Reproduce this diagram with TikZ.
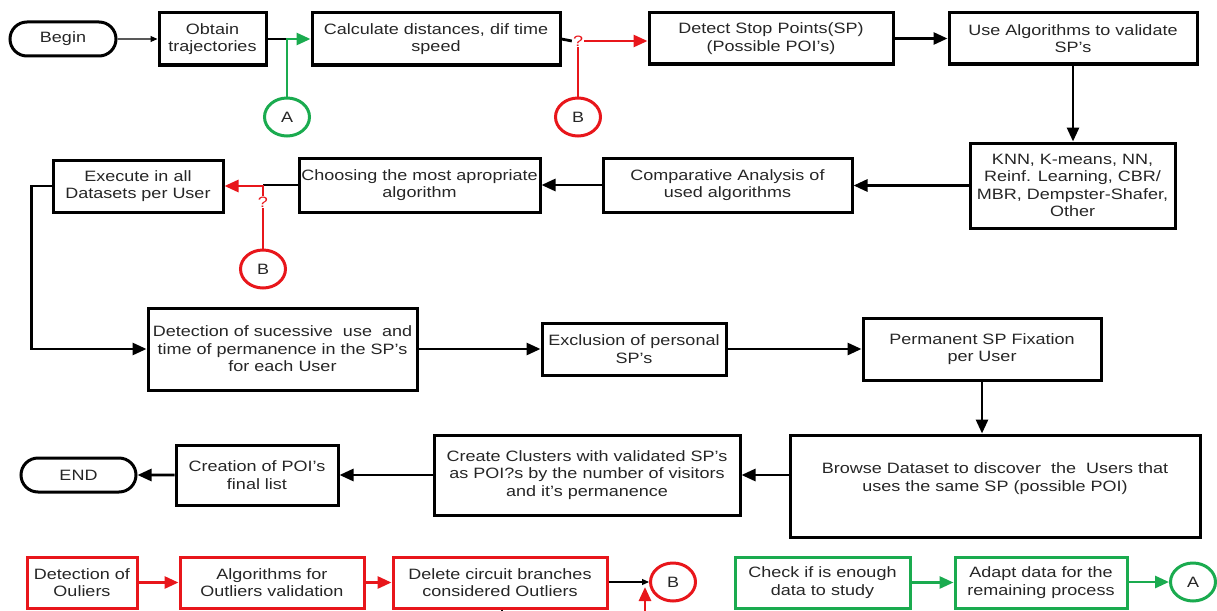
\documentclass[tikz,border=0pt]{standalone}
\usepackage{fontspec}
\setmainfont{Liberation Sans}[FakeStretch=1.2]
\usetikzlibrary{shapes.geometric,shapes.misc,arrows.meta,positioning}
\definecolor{flowred}{HTML}{E8161B}
\definecolor{flowgreen}{HTML}{1AAB4F}

\begin{document}
\begin{tikzpicture}[x=1pt, y=-1pt,
  procbox/.style={rectangle, draw, line width=3pt, inner sep=0pt, align=center, text=black!85, font=\fontsize{15}{17.5}\selectfont},
  redbox/.style={procbox, draw=flowred},
  greenbox/.style={procbox, draw=flowgreen},
  termbox/.style={rounded rectangle, draw, line width=3pt, inner sep=0pt, minimum width=106pt, minimum height=34pt, text=black!85, font=\fontsize{15}{17.5}\selectfont},
  connbox/.style={ellipse, draw, line width=3pt, inner sep=0pt, minimum width=45pt, minimum height=38pt, text=black!85, font=\fontsize{15}{17.5}\selectfont},
  qmark/.style={inner sep=1pt, text=flowred, font=\fontsize{15}{17.5}\selectfont},
  arr/.style={-{Triangle[length=14pt, width=12pt]}, line width=2.8pt},
  thinarr/.style={-{Triangle[length=7pt, width=6pt]}, line width=1.1pt},
  redarr/.style={arr, flowred},
  greenarr/.style={arr, flowgreen},
  redline/.style={line width=2.8pt, flowred}
]
  \useasboundingbox (0,0) rectangle (1217,610);
  \clip (0,0) rectangle (1217,610);

  \node[termbox] (begin) at (63,39) {Begin};
  \node[procbox, minimum width=107pt, minimum height=52pt] (obtain) at (212.5,39) {Obtain\\trajectories};
  \node[procbox, minimum width=248pt, minimum height=52pt] (calc) at (436,39) {Calculate distances, dif time\\speed};
  \node[qmark] (q1) at (578,41) {?};
  \node[procbox, minimum width=244pt, minimum height=51pt] (detect) at (771,38.5) {Detect Stop Points(SP)\\(Possible POI’s)};
  \node[procbox, minimum width=248pt, minimum height=51pt] (validate) at (1073,38.5) {Use Algorithms to validate\\SP’s};
  \node[connbox, draw=flowgreen] (connA1) at (287,117) {A};
  \node[connbox, draw=flowred] (connB1) at (578,117) {B};

  \node[procbox, minimum width=205pt, minimum height=85pt] (algos) at (1072.5,185.5) {KNN, K-means, NN,\\Reinf. Learning, CBR/\\MBR, Dempster-Shafer,\\Other};
  \node[procbox, minimum width=249pt, minimum height=54pt] (compare) at (727.5,185) {Comparative Analysis of\\used algorithms};
  \node[procbox, minimum width=241pt, minimum height=54pt] (choose) at (419.5,185) {Choosing the most apropriate\\algorithm};
  \node[procbox, minimum width=170pt, minimum height=52pt] (execute) at (138,186) {Execute in all\\Datasets per User};
  \node[qmark] (q2) at (263,202) {?};
  \node[connbox, draw=flowred] (connB2) at (263,269) {B};

  \node[procbox, minimum width=269pt, minimum height=82pt] (successive) at (282.5,349) {Detection of sucessive \ use \ and\\time of permanence in the SP’s\\for each User};
  \node[procbox, minimum width=184pt, minimum height=52pt] (exclude) at (634,349) {Exclusion of personal\\SP’s};
  \node[procbox, minimum width=238pt, minimum height=62pt] (fixation) at (982,349) {Permanent SP Fixation\\per User};

  \node[procbox, minimum width=410pt, minimum height=102pt] (browse) at (995,486) {Browse Dataset to discover \ the \ Users that\\uses the same SP (possible POI)\\\mbox{}};
  \node[procbox, minimum width=306pt, minimum height=80pt] (cluster) at (587,475) {Create Clusters with validated SP’s\\as POI?s by the number of visitors\\and it’s permanence};
  \node[procbox, minimum width=162pt, minimum height=60pt] (poilist) at (257,475) {Creation of POI’s\\final list};
  \node[termbox, minimum width=115pt] (end) at (78.5,475) {END};

  \node[redbox, minimum width=110pt, minimum height=51pt] (outliers) at (82,582.5) {Detection of\\Ouliers};
  \node[redbox, minimum width=184pt, minimum height=51pt] (outvalid) at (272,582.5) {Algorithms for\\Outliers validation};
  \node[redbox, minimum width=214pt, minimum height=51pt] (delete) at (500,582.5) {Delete circuit branches\\considered Outliers};
  \node[connbox, draw=flowred] (connB3) at (673,582) {B};
  \node[greenbox, minimum width=175pt, minimum height=51pt] (enough) at (822.5,582.5) {Check if is enough\\data to study};
  \node[greenbox, minimum width=172pt, minimum height=51pt] (adapt) at (1041,582.5) {Adapt data for the\\remaining process};
  \node[connbox, draw=flowgreen] (connA2) at (1193,582) {A};

  \coordinate (loopL) at (502,640);
  \coordinate (loopR) at (645,640);
  \coordinate (loopTip) at (645,587);

  \draw[thinarr] (begin) -- (obtain);
  \draw[line width=2.8pt] (obtain.east) -- (obtain.east -| connA1);
  \draw[greenarr] (connA1) |- (calc.west);
  \draw[line width=2.8pt] (calc.east) -- (q1.west);
  \draw[redarr] (q1.east) -- (q1.east -| detect.west);
  \draw[redline] (connB1) -- (q1.south);
  \draw[arr] (detect) -- (validate);
  \draw[arr] (validate.south) -- (validate.south |- algos.north);

  \draw[arr] (algos.west) -- (algos.west -| compare.east);
  \draw[arr] (compare) -- (choose);
  \draw[line width=2.8pt] (choose.west) -- (choose.west -| q2);
  \draw[redarr] (q2.north) |- (execute.east);
  \draw[redline] (connB2) -- (q2.south);
  \draw[arr] (execute.west) -- ++(-20,0) |- (successive.west);

  \draw[arr] (successive) -- (exclude);
  \draw[arr] (exclude) -- (fixation);
  \draw[arr] (fixation.south) -- (fixation.south |- browse.north);
  \draw[arr] (browse.west |- cluster.east) -- (cluster.east);
  \draw[arr] (cluster) -- (poilist);
  \draw[arr] (poilist) -- (end);

  \draw[redarr] (outliers) -- (outvalid);
  \draw[redarr] (outvalid) -- (delete);
  \draw[thinarr] (delete.east |- connB3.west) -- (connB3.west);
  \draw[line width=1.1pt] (delete.south -| loopL) -- (loopL);
  \draw[redarr] (loopR) -- (loopTip);
  \draw[greenarr] (enough) -- (adapt);
  \draw[greenarr] (adapt.east |- connA2.west) -- (connA2.west);
\end{tikzpicture}
\end{document}
